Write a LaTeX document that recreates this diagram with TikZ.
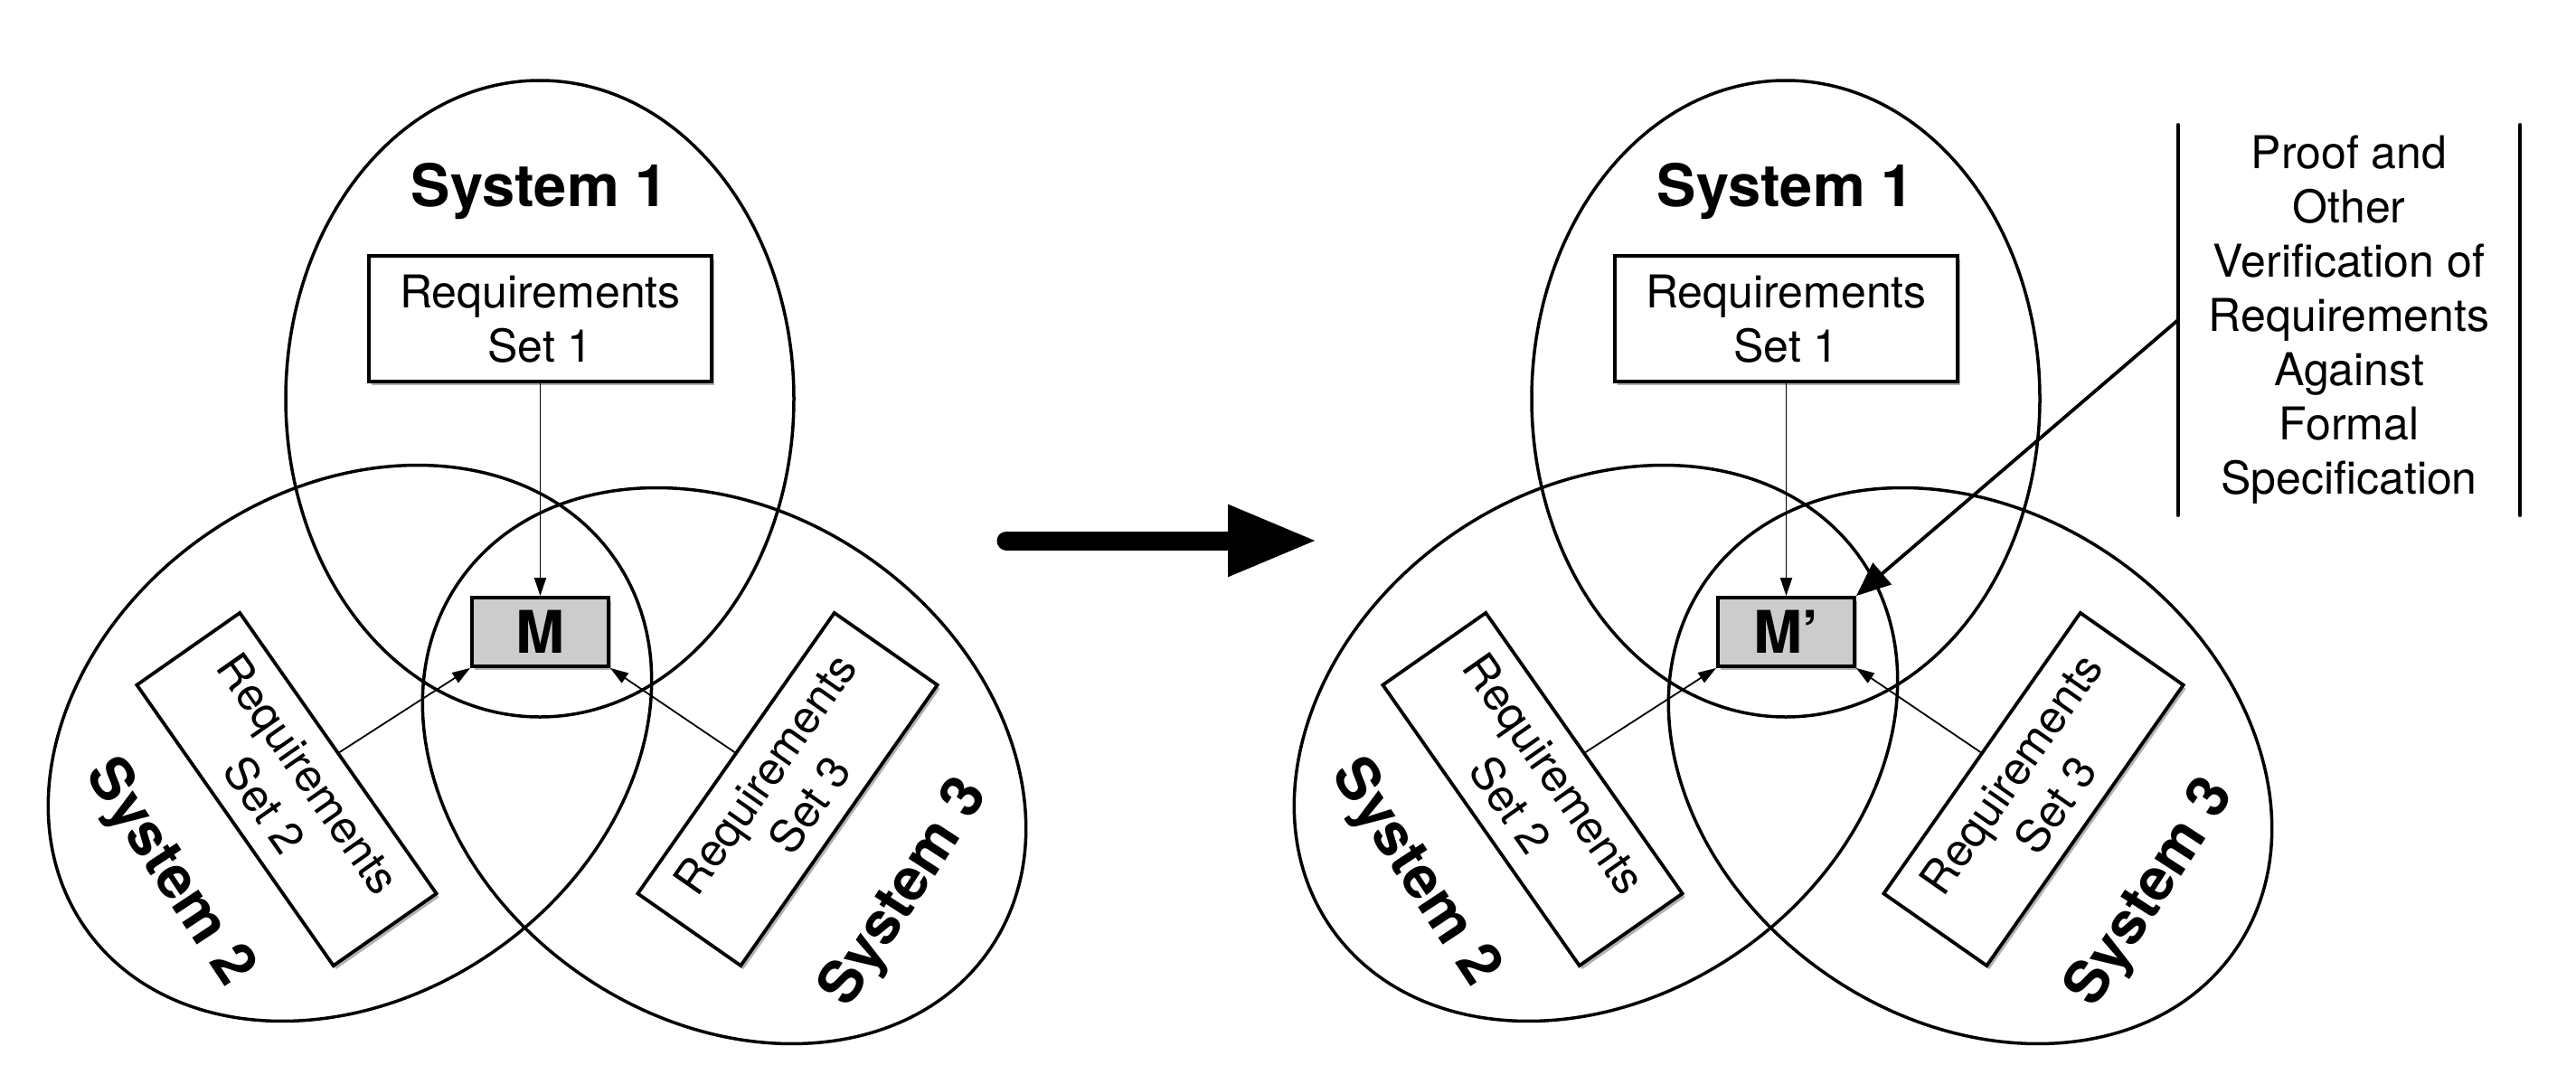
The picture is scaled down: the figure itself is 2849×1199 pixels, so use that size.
\documentclass[tikz,border=0pt]{standalone}
\usepackage{fontspec}
\setmainfont{TeX Gyre Heros}
\usetikzlibrary{arrows.meta,shadows}
\newcommand\myreg{\fontsize{50}{60}\selectfont}
\newcommand\mybold{\fontsize{65}{78}\selectfont\bfseries}
\tikzset{
  venn/.style={line width=3.5pt},
  myshadow/.style={drop shadow={shadow xshift=3pt,shadow yshift=-4pt,opacity=0.3,fill=black}},
  reqbox/.style={draw, line width=3.8pt, fill=white, minimum width=379pt, minimum height=139pt,
    inner sep=0pt, align=center, font=\myreg, myshadow},
  mbox/.style={draw, line width=3.8pt, fill=gray!40, minimum width=151pt, minimum height=76pt,
    inner sep=0pt, font=\mybold, myshadow},
  syslabel/.style={font=\mybold, inner sep=0pt},
  thinarrow/.style={line width=1.8pt, -{Triangle[length=20pt,width=13pt]}},
  bigarrow/.style={line width=21pt, line cap=round, -{Triangle[length=99pt,width=74pt]}},
  bar/.style={line width=3.5pt, line cap=round},
  verifarrow/.style={line width=3.8pt, -{Triangle[length=38pt,width=31pt]}},
}
\newcommand\drawvenn[2]{%
  \draw[venn] (597,441) ellipse [x radius=281, y radius=352];
  \draw[venn, rotate around={35:(387,822)}] (387,822) ellipse [x radius=357, y radius=280];
  \draw[venn, rotate around={-35:(801,847)}] (801,847) ellipse [x radius=357, y radius=280];
  \node[syslabel, anchor=base] (#1s1) at (597,228) {System 1};
  \node[syslabel, rotate=-56.5] (#1s2) at (186,966) {System 2};
  \node[syslabel, rotate=57] (#1s3) at (1002,988) {System 3};
  \node[reqbox] (#1r1) at (597.5,352.5) {Requirements\\Set 1};
  \node[reqbox, rotate=-55] (#1r2) at (317,873) {Requirements\\Set 2};
  \node[reqbox, rotate=55] (#1r3) at (871,873) {Requirements\\Set 3};
  \node[mbox] (#1m) at (597.5,699) {#2};
  \draw[thinarrow] (#1r1.south) -- (#1m.north);
  \draw[thinarrow] (#1r2.north) -- (#1m.south west);
  \draw[thinarrow] (#1r3.north) -- (#1m.south east);
}
\begin{document}
\begin{tikzpicture}[x=1pt,y=-1pt]
  \useasboundingbox (0,0) rectangle (2849,1199);
  \begin{scope}
    \drawvenn{L}{M}
  \end{scope}
  \begin{scope}[xshift=1378pt]
    \drawvenn{R}{M’}
  \end{scope}
  \coordinate (ba) at (1113,598);
  \coordinate (bb) at (1457,598);
  \draw[bigarrow] (ba) -- (bb);
  \node[font=\myreg, align=center, minimum width=378pt, minimum height=432pt, inner sep=0pt]
    (verif) at (2598,354) {Proof and\\Other\\Verification of\\Requirements\\Against\\Formal\\Specification};
  \draw[bar] (verif.north west) -- (verif.south west);
  \draw[bar] (verif.north east) -- (verif.south east);
  \draw[verifarrow] (verif.west) -- (Rm.north east);
\end{tikzpicture}
\end{document}
